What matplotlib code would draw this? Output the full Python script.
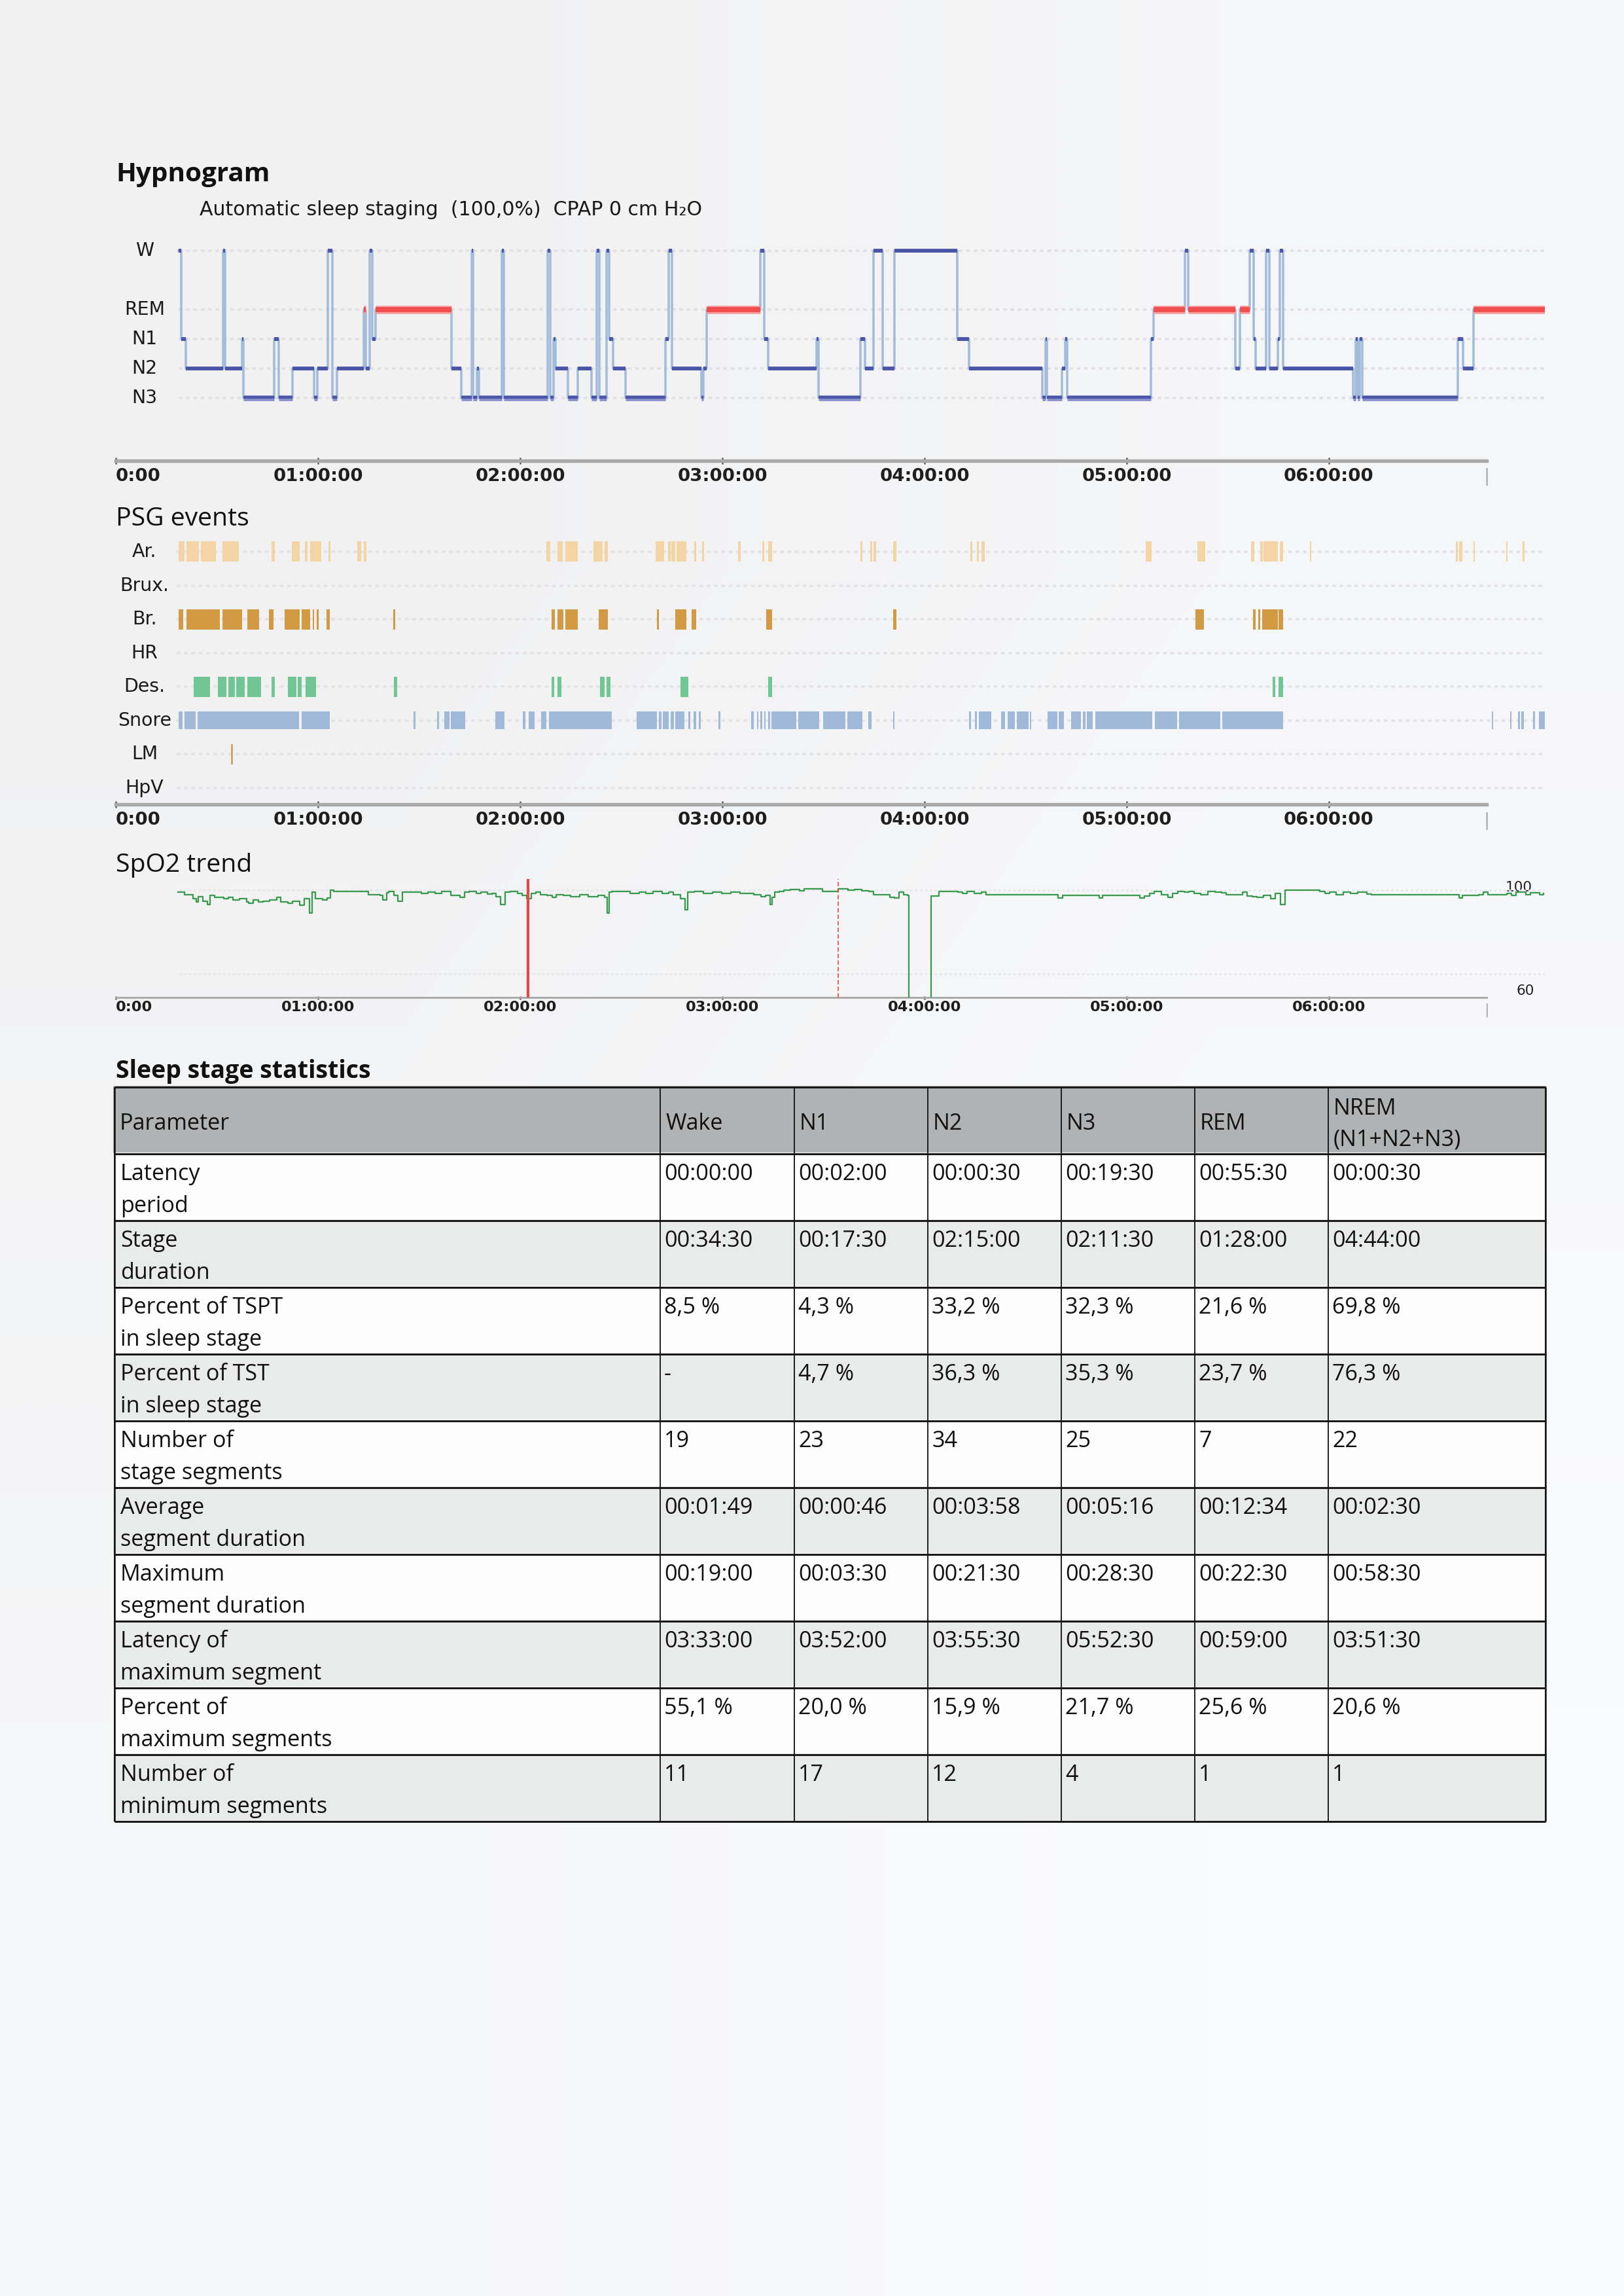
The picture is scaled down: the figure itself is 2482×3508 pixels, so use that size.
import numpy as np
import matplotlib
matplotlib.use("Agg")
import matplotlib.pyplot as plt
from matplotlib.colors import LinearSegmentedColormap

W_PX, H_PX = 2482, 3508
DPI = 300

# ---------------- data ----------------
hour_ticks = [0, 1, 2, 3, 4, 5, 6]
hour_labels = ["0:00", "01:00:00", "02:00:00", "03:00:00", "04:00:00", "05:00:00", "06:00:00"]
axis_end = 6.78
rec_start = 0.311
rec_end = 7.067

# hypnogram: segment start (hours) and stage
stage_names = ["W", "REM", "N1", "N2", "N3"]
stage_levels = {"N3": 0, "N2": 1, "N1": 2, "REM": 3, "W": 5}
hyp_start = [0.311, 0.325, 0.345, 0.530, 0.540, 0.626, 0.632, 0.782, 0.805, 0.873,
             0.980, 0.998, 1.047, 1.072, 1.095, 1.228, 1.236, 1.255, 1.268, 1.285,
             1.661, 1.710, 1.760, 1.768, 1.785, 1.797, 1.910, 1.918, 2.136, 2.150,
             2.165, 2.175, 2.235, 2.285, 2.352, 2.378, 2.392, 2.428, 2.440, 2.458,
             2.520, 2.718, 2.735, 2.751, 2.895, 2.905, 2.921, 3.189, 3.208, 3.225,
             3.466, 3.476, 3.684, 3.704, 3.748, 3.793, 3.850, 4.161, 4.220, 4.583,
             4.599, 4.605, 4.679, 4.697, 4.706, 5.121, 5.133, 5.287, 5.303, 5.537,
             5.560, 5.609, 5.627, 5.637, 5.689, 5.705, 5.746, 5.758, 5.773, 6.120,
             6.132, 6.143, 6.152, 6.166, 6.636, 6.665, 6.715]
hyp_stage = ["W", "N1", "N2", "W", "N2", "N1", "N3", "N1", "N3", "N2",
             "N3", "N2", "W", "N3", "N2", "REM", "N2", "W", "N1", "REM",
             "N2", "N3", "W", "N3", "N2", "N3", "W", "N3", "W", "N3",
             "N1", "N2", "N3", "N2", "N3", "W", "N3", "W", "N1", "N2",
             "N3", "N1", "W", "N2", "N3", "N2", "REM", "W", "N1", "N2",
             "N1", "N3", "N1", "N2", "W", "N2", "W", "N1", "N2", "N3",
             "N1", "N3", "N2", "N1", "N3", "N1", "REM", "W", "REM", "N2",
             "REM", "W", "N1", "N2", "W", "N2", "N1", "W", "N2", "N3",
             "N1", "N3", "N1", "N3", "N1", "N2", "REM"]

# PSG events (start, end) in hours
event_rows = ["Ar.", "Brux.", "Br.", "HR", "Des.", "Snore", "LM", "HpV"]
ar_events = [(0.311, 0.341), (0.348, 0.410), (0.420, 0.495), (0.527, 0.608), (0.769, 0.787),
             (0.871, 0.911), (0.935, 0.948), (0.960, 1.015), (1.052, 1.060), (1.195, 1.213),
             (1.228, 1.240), (2.131, 2.148), (2.186, 2.211), (2.223, 2.285), (2.364, 2.409),
             (2.416, 2.433), (2.669, 2.713), (2.730, 2.743), (2.748, 2.768), (2.775, 2.822),
             (2.862, 2.871), (2.899, 2.909), (3.077, 3.090), (3.196, 3.208), (3.226, 3.246),
             (3.684, 3.692), (3.732, 3.742), (3.748, 3.762), (3.845, 3.861), (4.225, 4.236),
             (4.259, 4.270), (4.281, 4.297), (5.094, 5.124), (5.348, 5.389), (5.614, 5.632),
             (5.661, 5.673), (5.678, 5.746), (5.757, 5.773), (5.906, 5.914), (6.627, 6.636),
             (6.645, 6.660), (6.714, 6.722), (6.876, 6.885), (6.959, 6.967)]
br_events = [(0.311, 0.334), (0.348, 0.515), (0.527, 0.626), (0.651, 0.708), (0.757, 0.779),
             (0.836, 0.911), (0.918, 0.960), (0.973, 0.982), (0.992, 1.002), (1.042, 1.059),
             (1.373, 1.381), (2.154, 2.173), (2.183, 2.213), (2.223, 2.285), (2.389, 2.433),
             (2.678, 2.686), (2.768, 2.822), (2.847, 2.871), (3.216, 3.246), (3.845, 3.861),
             (5.339, 5.382), (5.625, 5.637), (5.650, 5.661), (5.671, 5.746), (5.752, 5.775)]
des_events = [(0.386, 0.465), (0.505, 0.547), (0.557, 0.589), (0.596, 0.638), (0.651, 0.717),
              (0.769, 0.787), (0.851, 0.893), (0.901, 0.918), (0.940, 0.990), (1.376, 1.393),
              (2.154, 2.168), (2.183, 2.203), (2.396, 2.416), (2.426, 2.446), (2.793, 2.832),
              (3.226, 3.246), (5.723, 5.734), (5.752, 5.773)]
snore_events = [(0.311, 0.329), (0.341, 0.396), (0.406, 0.906), (0.918, 1.059), (1.474, 1.482),
                (1.589, 1.599), (1.624, 1.649), (1.658, 1.728), (1.876, 1.921), (2.013, 2.025),
                (2.042, 2.070), (2.104, 2.131), (2.144, 2.453), (2.577, 2.676), (2.686, 2.698),
                (2.706, 2.736), (2.743, 2.760), (2.768, 2.812), (2.832, 2.842), (2.859, 2.871),
                (2.882, 2.894), (2.982, 2.991), (3.144, 3.154), (3.171, 3.179), (3.188, 3.198),
                (3.206, 3.213), (3.226, 3.236), (3.243, 3.367), (3.377, 3.478), (3.498, 3.609),
                (3.619, 3.691), (3.721, 3.739), (3.844, 3.852), (4.220, 4.229), (4.250, 4.259),
                (4.270, 4.329), (4.379, 4.399), (4.410, 4.447), (4.456, 4.513), (4.521, 4.529),
                (4.610, 4.656), (4.663, 4.690), (4.724, 4.774), (4.783, 4.797), (4.803, 4.833),
                (4.845, 5.126), (5.140, 5.249), (5.259, 5.462), (5.473, 5.773), (6.805, 6.813),
                (6.895, 6.903), (6.936, 6.944), (6.953, 6.964), (7.010, 7.018), (7.040, 7.067)]
lm_events = [(0.569, 0.578)]

# SpO2 trend (hours, %)
spo2_t = [0.307, 0.340, 0.381, 0.397, 0.409, 0.431, 0.454, 0.465, 0.488, 0.511,
          0.534, 0.556, 0.579, 0.613, 0.647, 0.658, 0.681, 0.704, 0.727, 0.761,
          0.795, 0.817, 0.851, 0.874, 0.908, 0.931, 0.958, 0.970, 0.988, 1.022,
          1.044, 1.063, 1.078, 1.237, 1.249, 1.306, 1.321, 1.339, 1.351, 1.374,
          1.396, 1.419, 1.476, 1.510, 1.544, 1.578, 1.612, 1.657, 1.703, 1.725,
          1.748, 1.782, 1.805, 1.839, 1.862, 1.880, 1.902, 1.925, 1.953, 1.987,
          2.009, 2.032, 2.055, 2.077, 2.100, 2.134, 2.157, 2.179, 2.213, 2.248,
          2.293, 2.338, 2.384, 2.418, 2.429, 2.441, 2.452, 2.497, 2.543, 2.588,
          2.622, 2.656, 2.702, 2.735, 2.758, 2.792, 2.815, 2.827, 2.860, 2.906,
          2.951, 2.997, 3.042, 3.087, 3.156, 3.190, 3.212, 3.235, 3.246, 3.258,
          3.280, 3.303, 3.337, 3.382, 3.405, 3.473, 3.496, 3.505, 3.574, 3.621,
          3.655, 3.690, 3.725, 3.748, 3.829, 3.852, 3.875, 3.898, 3.917, 3.921,
          4.032, 4.071, 4.106, 4.164, 4.187, 4.210, 4.245, 4.280, 4.303, 4.649,
          4.661, 4.684, 4.846, 4.864, 4.881, 5.043, 5.066, 5.089, 5.112, 5.135,
          5.170, 5.204, 5.227, 5.251, 5.285, 5.308, 5.332, 5.366, 5.401, 5.436,
          5.470, 5.493, 5.539, 5.574, 5.597, 5.620, 5.643, 5.678, 5.713, 5.736,
          5.759, 5.782, 5.956, 5.979, 6.002, 6.037, 6.072, 6.106, 6.141, 6.187,
          6.210, 6.638, 6.645, 6.661, 6.742, 6.765, 6.788, 6.881, 6.904, 6.927,
          6.973, 6.996, 7.042, 7.061]
spo2_v = [99.0, 97.9, 95.8, 94.3, 96.9, 94.8, 93.2, 97.4, 96.4, 96.6,
          95.8, 96.4, 95.3, 95.8, 94.3, 93.8, 95.3, 94.3, 94.8, 95.3,
          96.4, 94.3, 93.8, 94.8, 92.7, 95.8, 89.1, 99.0, 95.8, 95.3,
          96.1, 100.0, 99.5, 99.5, 97.9, 97.6, 95.3, 98.6, 99.3, 97.4,
          94.8, 99.0, 99.0, 98.4, 99.0, 98.4, 99.3, 97.6, 96.4, 99.0,
          99.3, 98.4, 99.0, 98.2, 98.4, 96.9, 93.2, 99.0, 99.3, 98.4,
          97.4, 95.8, 98.4, 99.0, 97.9, 97.4, 96.4, 97.9, 97.4, 96.9,
          97.9, 96.9, 97.4, 96.4, 89.1, 99.0, 99.3, 99.3, 98.4, 99.0,
          98.4, 99.3, 98.4, 99.0, 97.9, 95.8, 90.6, 99.0, 99.3, 98.4,
          99.0, 98.4, 99.0, 98.4, 97.9, 96.9, 97.4, 93.2, 96.4, 99.0,
          99.5, 100.0, 100.3, 99.7, 100.5, 100.5, 99.5, 99.3, 100.5, 100.0,
          100.3, 99.7, 99.5, 97.9, 96.6, 96.1, 99.0, 97.9, 97.4, 0.0,
          97.2, 99.3, 99.5, 99.0, 98.4, 99.3, 98.4, 99.0, 97.7, 97.7,
          96.1, 97.6, 97.6, 96.1, 97.6, 97.6, 96.1, 97.2, 98.4, 99.3,
          97.9, 96.4, 98.4, 99.5, 99.0, 99.5, 98.4, 97.9, 99.3, 99.0,
          98.6, 97.9, 97.9, 99.0, 97.2, 96.9, 96.4, 97.4, 95.8, 98.4,
          93.2, 100.0, 99.5, 98.4, 99.0, 97.9, 99.0, 98.4, 99.0, 98.2,
          97.7, 97.7, 96.1, 97.6, 97.9, 99.0, 97.9, 98.4, 97.6, 99.0,
          97.9, 98.6, 97.9, 98.4]
event_marker_solid = 2.039
event_marker_dashed = 3.574

# table
table_title = "Sleep stage statistics"
table_columns = ["Parameter", "Wake", "N1", "N2", "N3", "REM", "NREM\n(N1+N2+N3)"]
table_params = ["Latency\nperiod", "Stage\nduration", "Percent of TSPT\nin sleep stage",
                "Percent of TST\nin sleep stage", "Number of\nstage segments",
                "Average\nsegment duration", "Maximum\nsegment duration",
                "Latency of\nmaximum segment", "Percent of\nmaximum segments",
                "Number of\nminimum segments"]
col_wake = ["00:00:00", "00:34:30", "8,5 %", "-", "19", "00:01:49", "00:19:00", "03:33:00", "55,1 %", "11"]
col_n1 = ["00:02:00", "00:17:30", "4,3 %", "4,7 %", "23", "00:00:46", "00:03:30", "03:52:00", "20,0 %", "17"]
col_n2 = ["00:00:30", "02:15:00", "33,2 %", "36,3 %", "34", "00:03:58", "00:21:30", "03:55:30", "15,9 %", "12"]
col_n3 = ["00:19:30", "02:11:30", "32,3 %", "35,3 %", "25", "00:05:16", "00:28:30", "05:52:30", "21,7 %", "4"]
col_rem = ["00:55:30", "01:28:00", "21,6 %", "23,7 %", "7", "00:12:34", "00:22:30", "00:59:00", "25,6 %", "1"]
col_nrem = ["00:00:30", "04:44:00", "69,8 %", "76,3 %", "22", "00:02:30", "00:58:30", "03:51:30", "20,6 %", "1"]

# ---------------- figure ----------------
fig = plt.figure(figsize=(W_PX / DPI, H_PX / DPI), dpi=DPI)
page = fig.add_axes([0, 0, 1, 1], zorder=0)
page.set_xlim(0, W_PX)
page.set_ylim(H_PX, 0)
page.axis("off")
bg = LinearSegmentedColormap.from_list("bg", ["#f1f1f2", "#fafbfd"])
page.imshow([[0.0, 0.5], [0.5, 1.0]], cmap=bg, extent=(0, W_PX, H_PX, 0),
            interpolation="bilinear", aspect="auto")

UI = ["Open Sans", "DejaVu Sans"]
BMP = "DejaVu Sans"


def px_axes(left, top, right, bottom):
    a = fig.add_axes([left / W_PX, 1 - bottom / H_PX, (right - left) / W_PX, (bottom - top) / H_PX],
                     zorder=1)
    a.set_facecolor("none")
    return a


def time_axis(ax, lw, fs, tlen, pad, bar_y):
    for s in ["top", "right", "left"]:
        ax.spines[s].set_visible(False)
    ax.spines["bottom"].set_bounds(0, axis_end)
    ax.spines["bottom"].set_color("#a9a9a9")
    ax.spines["bottom"].set_linewidth(lw)
    ax.set_yticks([])
    ax.set_xticks(hour_ticks)
    ax.set_xticklabels(hour_labels, fontfamily=BMP, fontweight="bold", fontsize=fs, color="#1e1e1e")
    ax.tick_params(axis="x", direction="inout", length=tlen, width=0.6, color="#555555", pad=pad)
    ax.get_xticklabels()[0].set_horizontalalignment("left")
    ax.text(axis_end, bar_y, "|", transform=ax.get_xaxis_transform(), ha="center", va="center",
            fontsize=fs, color="#aaaaaa", fontfamily=BMP)


# ---------------- hypnogram ----------------
page.text(177, 277, "Hypnogram", fontfamily=UI, fontweight="bold", fontsize=9.7, color="#111111")
page.text(305, 329, "Automatic sleep staging  (100,0%)  CPAP 0 cm H\u2082O", fontfamily=BMP,
          fontsize=7.2, color="#1a1a1a")

ax1 = px_axes(177, 360, 2361, 704)
ax1.set_xlim(0, 7.068)
ax1.set_ylim(-2.13, 5.51)
for name in stage_names:
    lv = stage_levels[name]
    ax1.hlines(lv, rec_start, rec_end, colors="#e2e2e5", linewidth=0.9, linestyles=(0, (1.5, 1.5)), zorder=1)
    ax1.text(0.142, lv, name, ha="center", va="center", fontfamily=BMP, fontsize=6.8, color="#1a1a1a")

levels = [stage_levels[s] for s in hyp_stage]
ax1.step(hyp_start + [rec_end], levels + [levels[-1]], where="post", color="#a3bcdb",
         linewidth=0.85, zorder=2)
seg_end = hyp_start[1:] + [rec_end]
for t0, t1, s in zip(hyp_start, seg_end, hyp_stage):
    lv = stage_levels[s]
    if s == "REM":
        ax1.hlines(lv, t0, t1, colors="#f8a3a3", linewidth=3.1, zorder=3)
        ax1.hlines(lv, t0, t1, colors="#f04e4e", linewidth=1.9, zorder=4)
    elif s == "N3":
        ax1.hlines(lv, t0, t1, colors="#8a90cc", linewidth=2.1, zorder=3)
        ax1.hlines(lv + 0.03, t0, t1, colors="#4b55a8", linewidth=1.0, zorder=4)
    else:
        ax1.hlines(lv, t0, t1, colors="#4b55a8", linewidth=1.4, zorder=3)
time_axis(ax1, 1.3, 6.6, 2.4, 1.5, -0.07)

# ---------------- PSG events ----------------
page.text(177, 803, "PSG events", fontfamily=UI, fontsize=9.4, color="#111111")
ax2 = px_axes(177, 812, 2361, 1229)
ax2.set_xlim(0, 7.068)
ax2.set_ylim(-0.485, 7.6)
row_y = {name: 7 - i for i, name in enumerate(event_rows)}
for name in event_rows:
    ax2.hlines(row_y[name], rec_start - 0.01, rec_end, colors="#e4e4e7", linewidth=0.9,
               linestyles=(0, (1.5, 1.5)), zorder=1)
    ax2.text(0.142, row_y[name], name, ha="center", va="center", fontfamily=BMP, fontsize=6.8,
             color="#1a1a1a")


def draw_events(ev, row, color, h):
    ax2.broken_barh([(a, b - a) for a, b in ev], (row_y[row] - h / 2, h), facecolors=color,
                    edgecolors="none", zorder=2)


draw_events(ar_events, "Ar.", "#f3d4a4", 0.6)
draw_events(br_events, "Br.", "#d29a42", 0.6)
draw_events(des_events, "Des.", "#72c595", 0.6)
draw_events(snore_events, "Snore", "#a0b9d9", 0.53)
draw_events(lm_events, "LM", "#d4a66a", 0.6)
time_axis(ax2, 1.3, 6.6, 2.4, 1.5, -0.06)

# ---------------- SpO2 ----------------
page.text(177, 1332, "SpO2 trend", fontfamily=UI, fontsize=9.4, color="#111111")
ax3 = px_axes(177, 1335, 2361, 1524)
ax3.set_xlim(0, 7.068)
ax3.set_ylim(48.75, 107.8)
ax3.hlines([100, 60], rec_start, rec_end, colors="#e6e6ea", linewidth=0.6, linestyles=(0, (1.5, 1.5)), zorder=1)
ax3.step(spo2_t, spo2_v, where="post", color="#3a9a50", linewidth=0.55, zorder=3)
ax3.vlines(event_marker_solid, 48.75, 105.3, colors="#e84646", linewidth=1.0, zorder=4)
ax3.vlines(event_marker_dashed, 48.75, 105.3, colors="#e84646", linewidth=0.4,
           linestyles=(0, (4, 2)), zorder=4)
time_axis(ax3, 0.7, 5.4, 1.2, 0.6, -0.1)
page.text(2321, 1356, "100", ha="center", va="center", fontfamily=BMP, fontsize=5.2, color="#222222")
page.text(2331, 1514, "60", ha="center", va="center", fontfamily=BMP, fontsize=5.2, color="#222222")

# ---------------- table ----------------
page.text(177, 1647, table_title, fontfamily=UI, fontweight="bold", fontsize=9.0, color="#111111")
col_x = [175, 1009, 1214, 1418, 1622, 1826, 2030, 2362]
tab_top = 1661
head_h = 102
row_h = 102
n_rows = len(table_params)
row_top = [tab_top + head_h + i * row_h for i in range(n_rows)]
tab_bottom = row_top[-1] + row_h

page.fill_between([col_x[0], col_x[-1]], tab_top, tab_top + head_h, color="#b1b2b4", zorder=1)
for i, rt in enumerate(row_top):
    page.fill_between([col_x[0], col_x[-1]], rt, rt + row_h,
                      color="#fdfdfd" if i % 2 == 0 else "#e9eaea", zorder=1)

# header
for j, name in enumerate(table_columns):
    lines = name.split("\n")
    if len(lines) == 1:
        page.text(col_x[j] + 8, tab_top + head_h / 2 + 5, name, va="center", fontfamily=UI,
                  fontsize=8.2, color="#111111", zorder=3)
    else:
        page.text(col_x[j] + 8, tab_top + 33, lines[0], va="center", fontfamily=UI,
                  fontsize=8.2, color="#111111", zorder=3)
        page.text(col_x[j] + 8, tab_top + 81, lines[1], va="center", fontfamily=UI,
                  fontsize=8.2, color="#111111", zorder=3)

columns_data = [col_wake, col_n1, col_n2, col_n3, col_rem, col_nrem]
for i, rt in enumerate(row_top):
    p1, p2 = table_params[i].split("\n")
    page.text(col_x[0] + 9, rt + 40, p1, va="baseline", fontfamily=UI, fontsize=8.2, color="#111111", zorder=3)
    page.text(col_x[0] + 9, rt + 89, p2, va="baseline", fontfamily=UI, fontsize=8.2, color="#111111", zorder=3)
    for j, col in enumerate(columns_data):
        page.text(col_x[j + 1] + 6, rt + 40, col[i], va="baseline", fontfamily=UI, fontsize=8.2,
                  color="#111111", zorder=3)

# grid lines
hlines_y = [tab_top, tab_top + head_h] + [rt + row_h for rt in row_top]
page.hlines(hlines_y, col_x[0], col_x[-1], colors="#151515", linewidth=0.7, zorder=4)
page.vlines(col_x, tab_top, tab_bottom, colors="#151515", linewidth=0.45, zorder=4)
page.vlines([col_x[0], col_x[-1]], tab_top, tab_bottom, colors="#151515", linewidth=0.6, zorder=4)

fig.savefig("out.png", dpi=DPI, facecolor="#f5f6f8")
